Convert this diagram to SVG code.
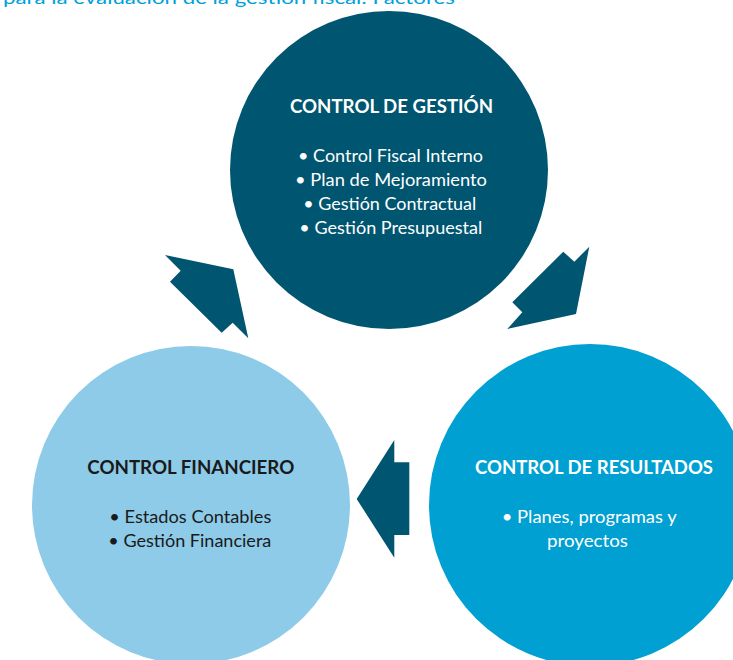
<svg xmlns="http://www.w3.org/2000/svg" width="733" height="660" viewBox="0 0 733 660">
<style>
.t{font-family:Lato,"Open Sans","Liberation Sans",sans-serif}
.h{font-weight:bold;font-size:18.5px}
.b{font-size:17.5px}
.w{fill:#ffffff}
.k{fill:#1a1a1a}
.arr{fill:#005570}
</style>
<rect width="733" height="660" fill="#ffffff"/>
<text x="3" y="3.5" font-family="Lato,'Open Sans','Liberation Sans',sans-serif" font-size="17" fill="#00A0DC" textLength="452" lengthAdjust="spacingAndGlyphs">para la evaluación de la gestión fiscal: Factores</text>
<g id="node-gestion">
<circle cx="389" cy="170" r="159" fill="#005570"/>
<text class="t h w" x="290" y="112.7" textLength="203" lengthAdjust="spacingAndGlyphs">CONTROL DE GESTIÓN</text>
<text class="t b w" x="298" y="162.3" textLength="185" lengthAdjust="spacingAndGlyphs">• Control Fiscal Interno</text>
<text class="t b w" x="295" y="186.2" textLength="192" lengthAdjust="spacingAndGlyphs">• Plan de Mejoramiento</text>
<text class="t b w" x="303.3" y="210.2" textLength="173" lengthAdjust="spacingAndGlyphs">• Gestión Contractual</text>
<text class="t b w" x="299.3" y="234.2" textLength="183" lengthAdjust="spacingAndGlyphs">• Gestión Presupuestal</text>
</g>
<g id="node-financiero">
<circle cx="191" cy="505" r="159" fill="#8DCBE8"/>
<text class="t h k" x="87.3" y="474.3" textLength="207" lengthAdjust="spacingAndGlyphs">CONTROL FINANCIERO</text>
<text class="t b k" x="109.3" y="523.3" textLength="162" lengthAdjust="spacingAndGlyphs">• Estados Contables</text>
<text class="t b k" x="108.3" y="546.7" textLength="163" lengthAdjust="spacingAndGlyphs">• Gestión Financiera</text>
</g>
<g id="node-resultados">
<circle cx="590" cy="505" r="161" fill="#00A0D2"/>
<text class="t h w" x="475" y="474" textLength="238" lengthAdjust="spacingAndGlyphs">CONTROL DE RESULTADOS</text>
<text class="t b w" x="501.7" y="523.3" textLength="175" lengthAdjust="spacingAndGlyphs">• Planes, programas y</text>
<text class="t b w" x="547" y="547" textLength="81" lengthAdjust="spacingAndGlyphs">proyectos</text>
</g>
<g id="connectors">
<polygon class="arr" points="165,255 233.3,269.3 248.3,338.3 232.7,322.7 221.7,332.7 170,281.7 180.7,270.7"/>
<polygon class="arr" points="563.3,251.7 574.3,261.7 589.3,246.7 576,314 507.3,329 522.3,312.3 512.3,302.3"/>
<polygon class="arr" points="394.3,440 394.3,462.3 409.3,462.3 409.3,535 394.3,535 394.3,557.7 356.7,499"/>
</g>
</svg>
